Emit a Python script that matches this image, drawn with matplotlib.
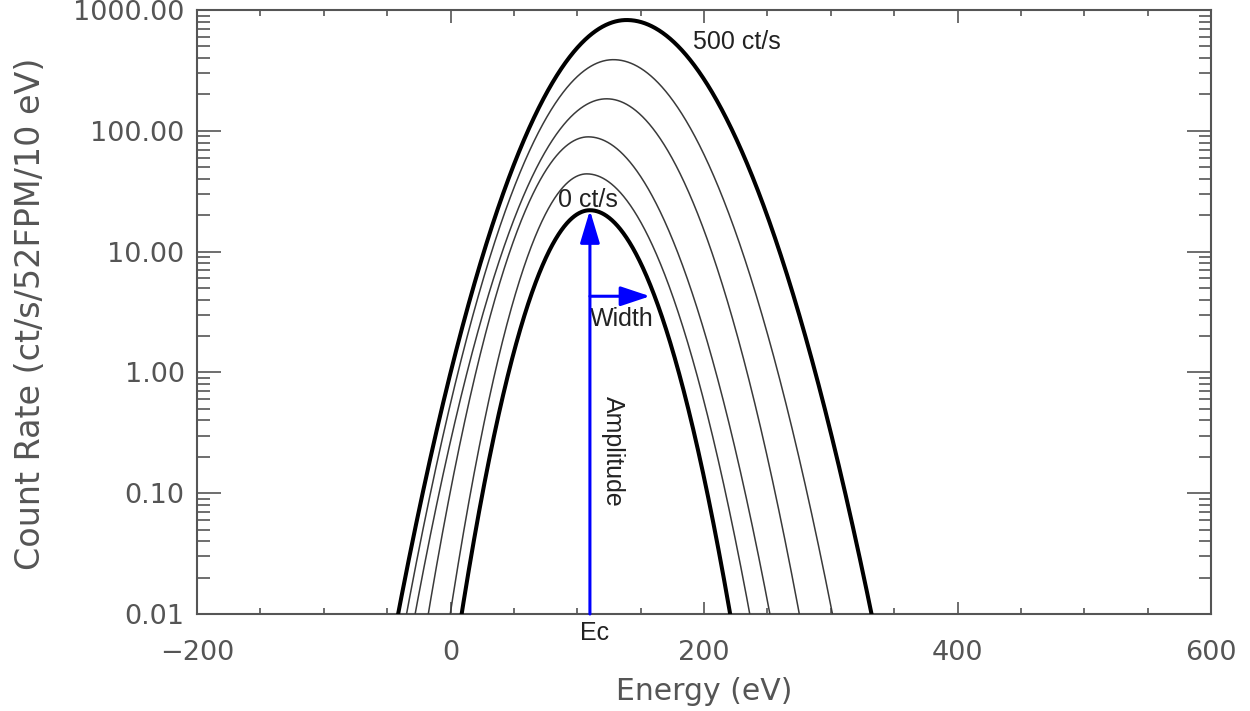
import numpy as np
import matplotlib
matplotlib.use("Agg")
import matplotlib.pyplot as plt
from matplotlib.ticker import FixedLocator, LogLocator, NullFormatter, FuncFormatter, MultipleLocator

# ---- data (split-Gaussian line profiles) ----
curve_labels = ["0 ct/s", "c1", "c2", "c3", "c4", "500 ct/s"]
peak_energy = [110.0, 107.5, 108.7, 123.2, 128.5, 139.0]      # eV
peak_rate = [22.0, 44.0, 89.1, 184.0, 388.0, 826.0]           # ct/s/52FPM/10 eV
sigma_left = [25.8, 26.3, 29.6, 34.1, 35.5, 37.9]             # eV
sigma_right = [28.2, 31.4, 33.6, 34.3, 37.6, 40.6]            # eV
thick = [True, False, False, False, False, True]

y_ticks = [0.01, 0.1, 1.0, 10.0, 100.0, 1000.0]
x_ticks = [-200, 0, 200, 400, 600]

ec_energy = 110.0
width_tip_energy = 157.4
width_level = 4.27

fig = plt.figure(figsize=(12.5, 7.11), dpi=100)
ax = fig.add_axes([197/1250, 1 - 614/711, (1211-197)/1250, (614-10)/711])

x = np.linspace(-120, 420, 2000)
for c, a, sl, sr, th in zip(peak_energy, peak_rate, sigma_left, sigma_right, thick):
    s = np.where(x < c, sl, sr)
    y = a * np.exp(-0.5 * ((x - c) / s) ** 2)
    ax.plot(x, y, color="black" if th else "#3a3a3a", lw=2.9 if th else 1.1,
            solid_capstyle="butt", zorder=3)

ax.set_yscale("log")
ax.set_xlim(-200, 600)
ax.set_ylim(0.01, 1000)

axis_col = "#555555"
ax.yaxis.set_major_locator(FixedLocator(y_ticks))
ax.yaxis.set_minor_locator(LogLocator(base=10, subs=np.arange(2, 10)))
ax.yaxis.set_minor_formatter(NullFormatter())
ax.yaxis.set_major_formatter(FuncFormatter(lambda v, p: "%.2f" % v))
ax.xaxis.set_major_locator(FixedLocator(x_ticks))
ax.xaxis.set_minor_locator(MultipleLocator(50))

ax.tick_params(axis="y", which="major", direction="in", length=17, width=1.2,
               color=axis_col, left=True, right=True, labelsize=19.5,
               labelcolor=axis_col, pad=9)
ax.tick_params(axis="y", which="minor", direction="in", length=9, width=1.2,
               color=axis_col, left=True, right=True)
ax.tick_params(axis="x", which="major", direction="in", length=9, width=1.2,
               color=axis_col, bottom=True, top=True, labelsize=19.5,
               labelcolor=axis_col, pad=19)
ax.tick_params(axis="x", which="minor", direction="in", length=4, width=1.2,
               color=axis_col, bottom=True, top=True)
for sp in ax.spines.values():
    sp.set_color(axis_col)
    sp.set_linewidth(1.5)

fig.text(704/1250, 1 - 692/711, "Energy (eV)", ha="center", va="center",
         fontsize=21.5, color=axis_col)
fig.text(31/1250, 1 - 314/711, "Count Rate (ct/s/52FPM/10 eV)", ha="center",
         va="center", rotation=90, fontsize=24, color=axis_col)

# ---- annotations ----
ann_font = "Liberation Sans"
ann_col = "#222222"
ax.annotate("", xy=(ec_energy, peak_rate[0]), xytext=(ec_energy, 0.01),
            arrowprops=dict(arrowstyle="-|>,head_length=1.0,head_width=0.3",
                            mutation_scale=20, color="#0000ff", lw=2.2,
                            shrinkA=0, shrinkB=0), zorder=4)
ax.annotate("", xy=(width_tip_energy, width_level), xytext=(ec_energy, width_level),
            arrowprops=dict(arrowstyle="-|>,head_length=0.9,head_width=0.3",
                            mutation_scale=20, color="#0000ff", lw=2.2,
                            shrinkA=0, shrinkB=0), zorder=4)

ax.text(191.3, 545, "500 ct/s", ha="left", va="center", fontsize=18,
        family=ann_font, color=ann_col)
ax.text(84.8, 26.9, "0 ct/s", ha="left", va="center", fontsize=18,
        family=ann_font, color=ann_col)
ax.text(110, 2.78, "Width", ha="left", va="center", fontsize=18,
        family=ann_font, color=ann_col)
ax.text(127.8, 0.224, "Amplitude", ha="center", va="center", rotation=-90,
        fontsize=18, family=ann_font, color=ann_col)
ax.text(114, 0.00698, "Ec", ha="center", va="center", fontsize=18,
        family=ann_font, color=ann_col, clip_on=False)

fig.savefig("out.png", dpi=100)
